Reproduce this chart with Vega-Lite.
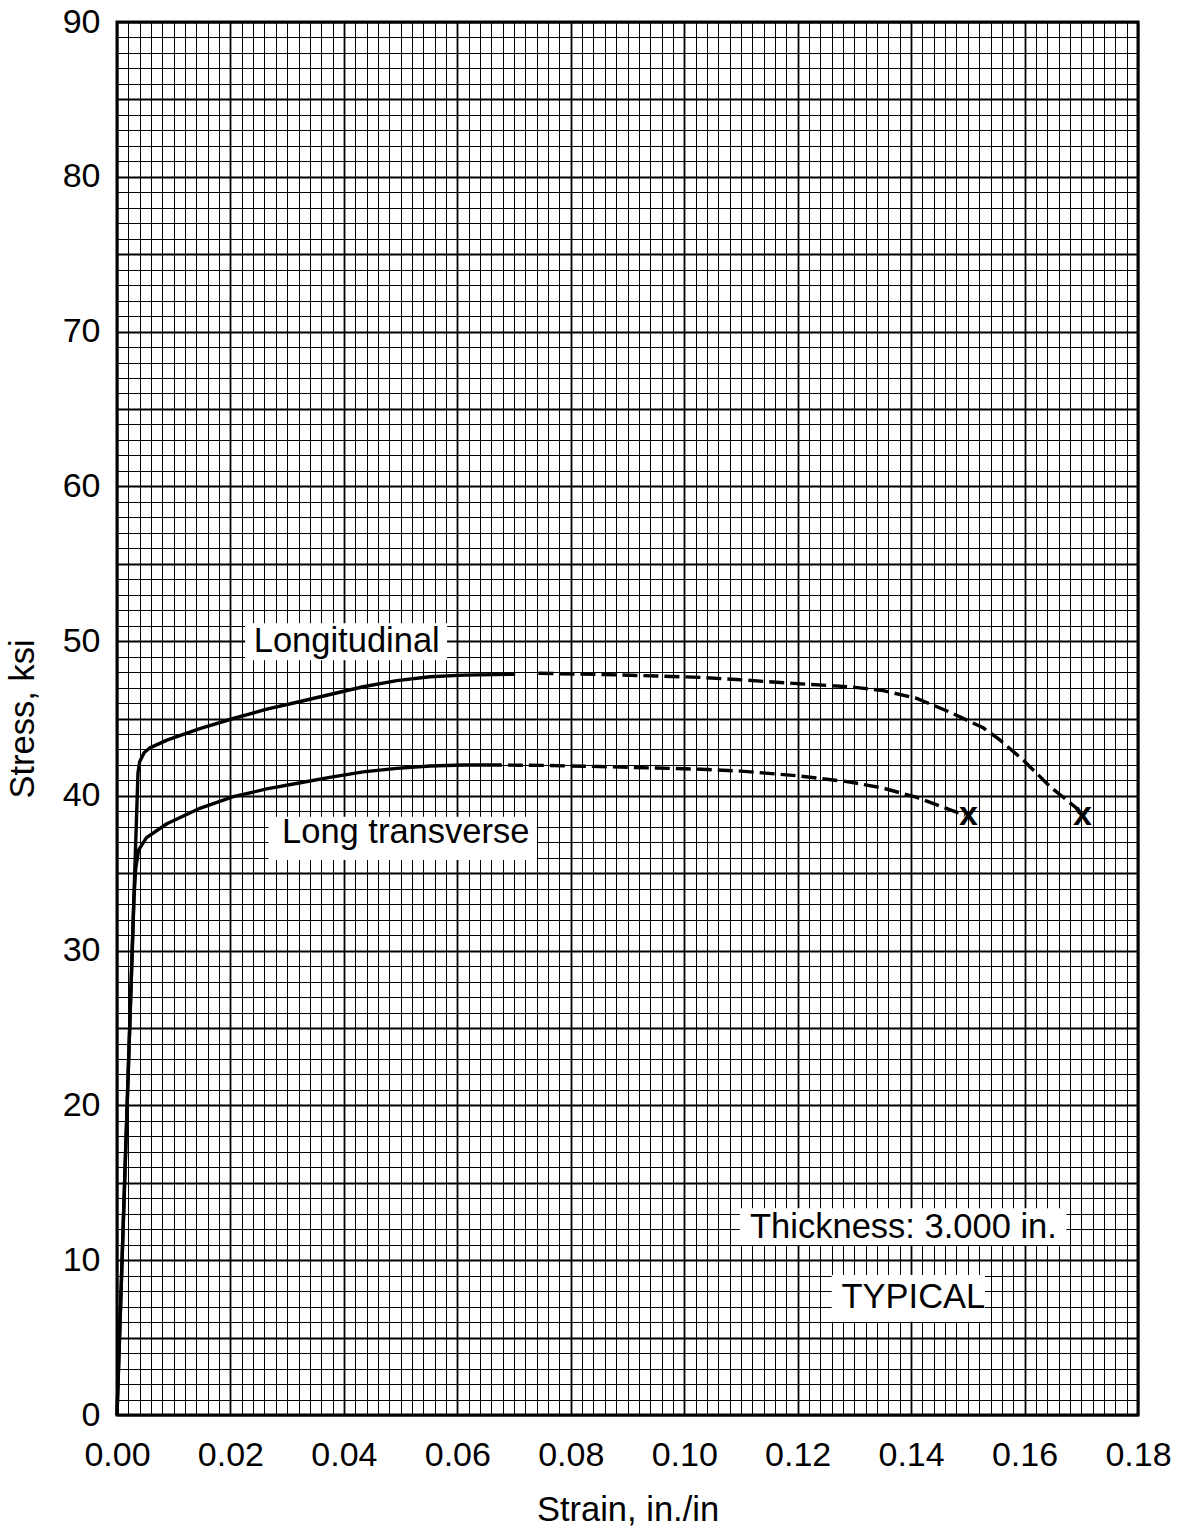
{
  "$schema": "https://vega.github.io/schema/vega-lite/v6.json",
  "width": 1021,
  "height": 1393,
  "autosize": {"type": "none"},
  "padding": {"left": 117, "top": 22, "right": 42, "bottom": 117},
  "background": "white",
  "config": {
    "font": "Liberation Sans",
    "view": {"stroke": "black", "strokeWidth": 3}
  },
  "datasets": {
    "curves": [
      {"direction": "Longitudinal", "phase": "measured", "strain": 0, "stress": 0},
      {"direction": "Longitudinal", "phase": "measured", "strain": 0.0037, "stress": 41.5},
      {"direction": "Longitudinal", "phase": "measured", "strain": 0.0040, "stress": 42.2},
      {"direction": "Longitudinal", "phase": "measured", "strain": 0.0048, "stress": 42.8},
      {"direction": "Longitudinal", "phase": "measured", "strain": 0.0058, "stress": 43.1},
      {"direction": "Longitudinal", "phase": "measured", "strain": 0.0088, "stress": 43.6},
      {"direction": "Longitudinal", "phase": "measured", "strain": 0.0146, "stress": 44.35},
      {"direction": "Longitudinal", "phase": "measured", "strain": 0.0205, "stress": 45.0},
      {"direction": "Longitudinal", "phase": "measured", "strain": 0.0264, "stress": 45.6},
      {"direction": "Longitudinal", "phase": "measured", "strain": 0.0323, "stress": 46.1},
      {"direction": "Longitudinal", "phase": "measured", "strain": 0.0381, "stress": 46.6},
      {"direction": "Longitudinal", "phase": "measured", "strain": 0.0434, "stress": 47.05},
      {"direction": "Longitudinal", "phase": "measured", "strain": 0.0493, "stress": 47.45},
      {"direction": "Longitudinal", "phase": "measured", "strain": 0.0552, "stress": 47.7},
      {"direction": "Longitudinal", "phase": "measured", "strain": 0.0611, "stress": 47.8},
      {"direction": "Longitudinal", "phase": "measured", "strain": 0.0702, "stress": 47.86},
      {"direction": "Longitudinal", "phase": "extrapolated", "strain": 0.0743, "stress": 47.92},
      {"direction": "Longitudinal", "phase": "extrapolated", "strain": 0.085, "stress": 47.85},
      {"direction": "Longitudinal", "phase": "extrapolated", "strain": 0.095, "stress": 47.75},
      {"direction": "Longitudinal", "phase": "extrapolated", "strain": 0.1027, "stress": 47.66},
      {"direction": "Longitudinal", "phase": "extrapolated", "strain": 0.110, "stress": 47.5},
      {"direction": "Longitudinal", "phase": "extrapolated", "strain": 0.120, "stress": 47.25},
      {"direction": "Longitudinal", "phase": "extrapolated", "strain": 0.1292, "stress": 47.05},
      {"direction": "Longitudinal", "phase": "extrapolated", "strain": 0.1351, "stress": 46.8},
      {"direction": "Longitudinal", "phase": "extrapolated", "strain": 0.141, "stress": 46.3},
      {"direction": "Longitudinal", "phase": "extrapolated", "strain": 0.1469, "stress": 45.4},
      {"direction": "Longitudinal", "phase": "extrapolated", "strain": 0.1527, "stress": 44.4},
      {"direction": "Longitudinal", "phase": "extrapolated", "strain": 0.1557, "stress": 43.6},
      {"direction": "Longitudinal", "phase": "extrapolated", "strain": 0.1598, "stress": 42.3},
      {"direction": "Longitudinal", "phase": "extrapolated", "strain": 0.1645, "stress": 40.6},
      {"direction": "Longitudinal", "phase": "extrapolated", "strain": 0.1692, "stress": 39.2},
      {"direction": "Longitudinal", "phase": "extrapolated", "strain": 0.1698, "stress": 38.8},
      {"direction": "Long transverse", "phase": "measured", "strain": 0, "stress": 0},
      {"direction": "Long transverse", "phase": "measured", "strain": 0.0030, "stress": 33.5},
      {"direction": "Long transverse", "phase": "measured", "strain": 0.0033, "stress": 35.3},
      {"direction": "Long transverse", "phase": "measured", "strain": 0.0038, "stress": 36.5},
      {"direction": "Long transverse", "phase": "measured", "strain": 0.0052, "stress": 37.3},
      {"direction": "Long transverse", "phase": "measured", "strain": 0.0088, "stress": 38.2},
      {"direction": "Long transverse", "phase": "measured", "strain": 0.0146, "stress": 39.2},
      {"direction": "Long transverse", "phase": "measured", "strain": 0.0205, "stress": 39.95},
      {"direction": "Long transverse", "phase": "measured", "strain": 0.0264, "stress": 40.45},
      {"direction": "Long transverse", "phase": "measured", "strain": 0.0323, "stress": 40.85},
      {"direction": "Long transverse", "phase": "measured", "strain": 0.0375, "stress": 41.2},
      {"direction": "Long transverse", "phase": "measured", "strain": 0.0434, "stress": 41.55},
      {"direction": "Long transverse", "phase": "measured", "strain": 0.0493, "stress": 41.78},
      {"direction": "Long transverse", "phase": "measured", "strain": 0.0552, "stress": 41.93},
      {"direction": "Long transverse", "phase": "measured", "strain": 0.0611, "stress": 42.0},
      {"direction": "Long transverse", "phase": "measured", "strain": 0.0652, "stress": 42.0},
      {"direction": "Long transverse", "phase": "extrapolated", "strain": 0.0652, "stress": 42.0},
      {"direction": "Long transverse", "phase": "extrapolated", "strain": 0.075, "stress": 41.97},
      {"direction": "Long transverse", "phase": "extrapolated", "strain": 0.085, "stress": 41.9},
      {"direction": "Long transverse", "phase": "extrapolated", "strain": 0.095, "stress": 41.8},
      {"direction": "Long transverse", "phase": "extrapolated", "strain": 0.103, "stress": 41.72},
      {"direction": "Long transverse", "phase": "extrapolated", "strain": 0.110, "stress": 41.6},
      {"direction": "Long transverse", "phase": "extrapolated", "strain": 0.120, "stress": 41.3},
      {"direction": "Long transverse", "phase": "extrapolated", "strain": 0.1292, "stress": 40.9},
      {"direction": "Long transverse", "phase": "extrapolated", "strain": 0.1351, "stress": 40.5},
      {"direction": "Long transverse", "phase": "extrapolated", "strain": 0.141, "stress": 39.9},
      {"direction": "Long transverse", "phase": "extrapolated", "strain": 0.1469, "stress": 39.1},
      {"direction": "Long transverse", "phase": "extrapolated", "strain": 0.1495, "stress": 38.75}
    ],
    "fractures": [
      {"direction": "Long transverse", "strain": 0.1501, "stress": 38.75, "mark": "x"},
      {"direction": "Longitudinal", "strain": 0.1702, "stress": 38.75, "mark": "x"}
    ],
    "boxes": [
      {"label": "Longitudinal", "strain": 0.0226, "strain_end": 0.0582, "stress": 48.76, "stress_end": 51.15},
      {"label": "Long transverse", "strain": 0.0267, "strain_end": 0.0740, "stress": 35.85, "stress_end": 38.65},
      {"label": "Thickness: 3.000 in.", "strain": 0.1098, "strain_end": 0.1674, "stress": 10.98, "stress_end": 13.35},
      {"label": "TYPICAL", "strain": 0.1260, "strain_end": 0.1530, "stress": 6.03, "stress_end": 9.05}
    ],
    "notes": [
      {"label": "Longitudinal", "strain": 0.0405, "stress": 49.27},
      {"label": "Long transverse", "strain": 0.0509, "stress": 36.94},
      {"label": "Thickness: 3.000 in.", "strain": 0.13865, "stress": 11.42},
      {"label": "TYPICAL", "strain": 0.1404, "stress": 6.89}
    ]
  },
  "encoding": {
    "x": {
      "field": "strain",
      "type": "quantitative",
      "scale": {"domain": [0, 0.18], "nice": false, "zero": false},
      "axis": {
        "title": "Strain, in./in",
        "titleFontSize": 34.5,
        "titleFontWeight": "normal",
        "titleColor": "black",
        "titlePadding": 21,
        "values": [0,0.002,0.004,0.006,0.008,0.01,0.012,0.014,0.016,0.018,0.02,0.022,0.024,0.026,0.028,0.03,0.032,0.034,0.036,0.038,0.04,0.042,0.044,0.046,0.048,0.05,0.052,0.054,0.056,0.058,0.06,0.062,0.064,0.066,0.068,0.07,0.072,0.074,0.076,0.078,0.08,0.082,0.084,0.086,0.088,0.09,0.092,0.094,0.096,0.098,0.1,0.102,0.104,0.106,0.108,0.11,0.112,0.114,0.116,0.118,0.12,0.122,0.124,0.126,0.128,0.13,0.132,0.134,0.136,0.138,0.14,0.142,0.144,0.146,0.148,0.15,0.152,0.154,0.156,0.158,0.16,0.162,0.164,0.166,0.168,0.17,0.172,0.174,0.176,0.178,0.18],
        "labelExpr": "abs(datum.value*50-round(datum.value*50))<0.01 ? format(datum.value,'.2f') : ''",
        "labelFontSize": 34,
        "labelColor": "black",
        "labelPadding": 23,
        "labelOverlap": false,
        "labelFlush": false,
        "labelBound": false,
        "ticks": false,
        "domain": false,
        "grid": true,
        "gridColor": "black",
        "gridOpacity": 1,
        "gridWidth": {"condition": {"test": "abs(datum.value*50-round(datum.value*50))<0.01", "value": 1.8}, "value": 1}
      }
    },
    "y": {
      "field": "stress",
      "type": "quantitative",
      "scale": {"domain": [0, 90], "nice": false},
      "axis": {
        "title": "Stress, ksi",
        "titleFontSize": 34.5,
        "titleFontWeight": "normal",
        "titleColor": "black",
        "titlePadding": 22,
        "values": [0,1,2,3,4,5,6,7,8,9,10,11,12,13,14,15,16,17,18,19,20,21,22,23,24,25,26,27,28,29,30,31,32,33,34,35,36,37,38,39,40,41,42,43,44,45,46,47,48,49,50,51,52,53,54,55,56,57,58,59,60,61,62,63,64,65,66,67,68,69,70,71,72,73,74,75,76,77,78,79,80,81,82,83,84,85,86,87,88,89,90],
        "labelExpr": "datum.value % 10 == 0 ? format(datum.value,'d') : ''",
        "labelFontSize": 34,
        "labelColor": "black",
        "labelPadding": 17,
        "labelOverlap": false,
        "labelFlush": false,
        "labelBound": false,
        "ticks": false,
        "domain": false,
        "grid": true,
        "gridColor": "black",
        "gridOpacity": 1,
        "gridWidth": {"condition": {"test": "datum.value % 5 == 0", "value": 1.8}, "value": 1}
      }
    }
  },
  "layer": [
    {
      "data": {"name": "curves"},
      "transform": [{"filter": "datum.phase == 'measured'"}],
      "mark": {"type": "line", "color": "black", "strokeWidth": 3.4, "strokeCap": "butt", "strokeJoin": "round"},
      "encoding": {"detail": {"field": "direction"}}
    },
    {
      "data": {"name": "curves"},
      "transform": [{"filter": "datum.phase == 'extrapolated'"}],
      "mark": {"type": "line", "color": "black", "strokeWidth": 3.4, "strokeDash": [15, 6], "strokeCap": "butt"},
      "encoding": {"detail": {"field": "direction"}}
    },
    {
      "data": {"name": "fractures"},
      "mark": {"type": "text", "fontSize": 34, "color": "black", "align": "center", "baseline": "middle", "fontWeight": "bold"},
      "encoding": {"text": {"field": "mark"}}
    },
    {
      "data": {"name": "boxes"},
      "mark": {"type": "rect", "color": "white", "opacity": 1},
      "encoding": {
        "x2": {"field": "strain_end"},
        "y2": {"field": "stress_end"}
      }
    },
    {
      "data": {"name": "notes"},
      "mark": {"type": "text", "fontSize": 34.5, "color": "black", "align": "center", "baseline": "alphabetic"},
      "encoding": {"text": {"field": "label"}}
    }
  ]
}
